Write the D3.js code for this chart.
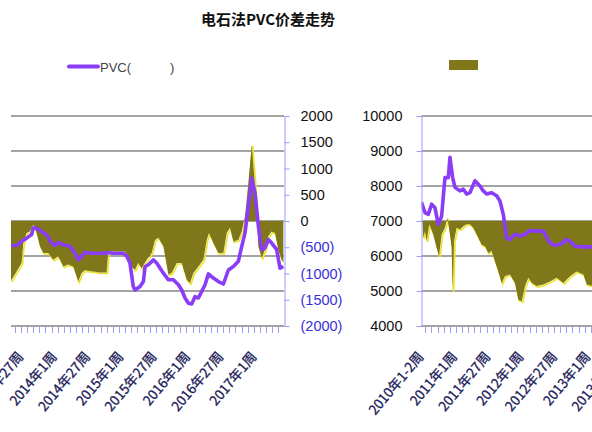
<!DOCTYPE html>
<html>
<head>
<meta charset="utf-8">
<script src="https://cdn.jsdelivr.net/npm/d3@7/dist/d3.min.js"></script>
<style>
body{margin:0;background:#fff;}
svg{display:block;}
</style>
</head>
<body>
<div id="chart"></div>
<script>
(function()
{
    var width = 592;
    var height = 432;

    var title = "电石法PVC价差走势";
    var legendLine = ["PVC(", ")"];

    // y axes
    var primaryTicks = [4000, 5000, 6000, 7000, 8000, 9000, 10000];
    var secondaryTicks = [-2000, -1500, -1000, -500, 0, 500, 1000, 1500, 2000];

    // category labels (week index from 2010年1-2周)
    var rightLabels = ["2010年1-2周", "2011年1周", "2011年27周", "2012年1周", "2012年27周", "2013年1周", "2013年27周"];
    var rightLabelWeeks = [0, 26, 52, 78, 104, 130, 156];
    var leftLabels = ["2013年27周", "2014年1周", "2014年27周", "2015年1周", "2015年27周", "2016年1周", "2016年27周", "2017年1周"];
    var leftLabelWeeks = [156, 182, 208, 234, 260, 286, 312, 338];

    // PVC price (primary axis)
    var pvcWeeks = [0, 2.7, 5.3, 7.9, 10.5, 13.1, 15.7, 18.3, 20.9, 22.2, 24.3, 26.1, 30, 32.6, 35.2, 37.8, 41.7, 45.6, 48.2, 50.8,
        54.7, 58.6, 61.2, 63.8, 66.4, 69, 72.9, 76.9, 80.8, 84.7, 89.9, 95.1, 99, 102.9, 108.1, 113.3, 117.2, 119.8, 126.3, 134,
        148.5, 152.4, 156.3, 160.2, 164.1, 165.4, 168, 171.9, 175.8, 179.7, 182.3, 184.9, 188.8, 194, 197.9, 200.5, 203.1, 205.7, 210.9, 217.4,
        221.3, 222.6, 227.8, 235.6, 238.2, 240.8, 243.4, 244.7, 248.7, 251.3, 252.6, 255.2, 259.1, 261.7, 264.3, 266.9, 270.8, 274.7, 278.6, 281.2,
        283.8, 286.4, 289, 291.6, 294.2, 296.8, 299.4, 302, 305.9, 309.8, 313.7, 317.6, 321.5, 325.4, 328, 330.6, 333.2, 335.8, 338.4, 341,
        343.6, 346.2, 348.8, 351.4, 355.3, 357.9, 360.5];
    var pvcPrice = [7530, 7240, 7190, 7480, 7380, 6900, 7140, 8240, 8240, 8820, 8240, 7960, 7860, 7910, 7770, 7810, 8150, 8000, 7860, 7770,
        7810, 7720, 7570, 7190, 6520, 6470, 6620, 6570, 6620, 6730, 6710, 6710, 6430, 6310, 6330, 6470, 6380, 6280, 6260, 6260,
        6300, 6300, 6420, 6510, 6610, 6800, 6800, 6700, 6610, 6370, 6300, 6390, 6320, 6280, 6080, 5890, 5990, 6100, 6080, 6080,
        6070, 6100, 6080, 6080, 6000, 5800, 5130, 5030, 5130, 5270, 5700, 5750, 5890, 5800, 5650, 5510, 5320, 5320, 5180, 5030,
        4800, 4650, 4630, 4840, 4800, 4990, 5180, 5490, 5370, 5270, 5200, 5600, 5700, 5850, 6270, 6660, 7420, 8230, 7800, 6850,
        6180, 6230, 6470, 6370, 6180, 5650, 5700];

    // 价差 (secondary axis)
    var spreadWeeks = [0.7, 1.4, 2.7, 4, 6.1, 9.2, 11.8, 13.7, 15.7, 18.3, 20.2, 22.2, 23.5, 24.3, 25.4, 27.4, 30, 32.6, 35.2, 37.8,
        40.4, 44.3, 46.9, 49.5, 52.1, 54.7, 57.3, 59.9, 62.5, 65.1, 69, 72.9, 75.5, 78.2, 80.8, 83.4, 86, 89.9, 95.1, 100.3,
        105.5, 110.7, 115.9, 121.1, 126.3, 128.9, 134,
        148.5, 152.4, 156.3, 157.6, 160.2, 162.8, 165.4, 168, 170.6, 173.2, 177.1, 181, 184.9, 188.8, 192.7, 196.6, 200.5, 203.1, 205.7, 212.2,
        217.4, 222.6, 223.9, 230.4, 237, 239.5, 242.1, 244.7, 247.3, 249.9, 253.9, 257.8, 260.4, 263, 266.9, 270.8, 273.4, 277.3, 281.2, 285.1,
        287.7, 290.3, 294.2, 298.1, 300.7, 302.5, 305.9, 309.8, 313.7, 316.3, 318.9, 321.5, 325.4, 328, 330.6, 333.2, 335.8, 338.4, 341, 343.6,
        346.2, 348.8, 351.4, 354, 356.6, 359.2, 360.5];
    var spreadValue = [0, -320, -190, -380, -60, -255, -510, -670, -255, -130, 60, -255, -510, -1340, -380, -130, -160, -100, -60, -60,
        -130, -320, -450, -480, -610, -570, -770, -960, -1180, -1050, -1020, -1180, -1500, -1530, -1240, -1080, -1180, -1240, -1210, -1150,
        -1080, -1180, -1050, -960, -1020, -1210, -1240,
        -1120, -960, -800, -420, -230, -200, -70, -230, -480, -610, -610, -740, -670, -865, -830, -865, -1150, -990, -940, -960,
        -980, -980, -580, -580, -580, -670, -865, -930, -800, -900, -740, -610, -360, -320, -480, -1020, -990, -800, -800, -1120,
        -1180, -990, -865, -740, -360, -230, -420, -610, -610, -230, -130, -390, -360, -200, 90, 725, 1450, 660, -480, -700,
        -550, -290, -200, -230, -550, -740, -770];

    var pvc = pvcWeeks.map(function(w, i){ return {w: w, v: pvcPrice[i]}; });
    var spread = spreadWeeks.map(function(w, i){ return {w: w, v: spreadValue[i]}; });

    var top = 116, bottom = 326;
    var olive = "#7f7719";
    var purple = "#8a3cf6";
    var axisColor = "#9a9aff";

    var svg = d3.select("#chart").append("svg")
        .attr("width", width)
        .attr("height", height)
        .style("font-family", "'Liberation Sans', Arial, sans-serif");

    var yP = d3.scaleLinear().domain([4000, 10000]).range([bottom, top]);
    var yS = d3.scaleLinear().domain([-2000, 2000]).range([bottom, top]);

    // the two panels are two windows on the same weekly axis
    var panels = [
        {id: "pl", x: d3.scaleLinear().domain([148, 361]).range([11, 284]), labels: leftLabels, labelWeeks: leftLabelWeeks},
        {id: "pr", x: d3.scaleLinear().domain([0, 133]).range([421.5, 592]), labels: rightLabels, labelWeeks: rightLabelWeeks}
    ];

    var defs = svg.append("defs");

    panels.forEach(function(p)
    {
        var x = p.x;
        var x0 = x.range()[0], x1 = x.range()[1];

        defs.append("clipPath").attr("id", "clip-" + p.id)
            .append("rect").attr("x", x0).attr("y", 0).attr("width", x1 - x0).attr("height", height);

        var g = svg.append("g");

        g.selectAll(".grid").data(primaryTicks)
            .enter().append("line")
            .attr("x1", x0).attr("x2", x1)
            .attr("y1", function(d){ return yP(d); })
            .attr("y2", function(d){ return yP(d); })
            .attr("stroke", "#a3a3a3")
            .attr("stroke-width", 2);

        var plot = g.append("g").attr("clip-path", "url(#clip-" + p.id + ")");

        var edge = d3.line().x(function(d){ return x(d.w); }).y(function(d){ return yS(d.v); });
        plot.append("path").datum(spread)
            .attr("d", edge)
            .attr("transform", "translate(1,1)")
            .attr("fill", "none")
            .attr("stroke", "#ece42a")
            .attr("stroke-width", 1.6);

        var area = d3.area()
            .x(function(d){ return x(d.w); })
            .y0(yS(0))
            .y1(function(d){ return yS(d.v); });
        plot.append("path").datum(spread)
            .attr("d", area)
            .attr("fill", olive);

        var line = d3.line().x(function(d){ return x(d.w); }).y(function(d){ return yP(d.v); });
        plot.append("path").datum(pvc)
            .attr("d", line)
            .attr("fill", "none")
            .attr("stroke", purple)
            .attr("stroke-width", 3.6)
            .attr("stroke-linejoin", "round");

        // category tick marks
        var tickWeeks = d3.range(x.domain()[0] + 3, x.domain()[1], 4.78);
        g.selectAll(".xtick").data(tickWeeks)
            .enter().append("line")
            .attr("x1", function(d){ return Math.round(x(d)) + 0.5; })
            .attr("x2", function(d){ return Math.round(x(d)) + 0.5; })
            .attr("y1", bottom + 1).attr("y2", bottom + 7)
            .attr("stroke", axisColor)
            .attr("stroke-width", 1);

        g.selectAll(".xlab").data(p.labels)
            .enter().append("text")
            .attr("transform", function(d, i){ return "translate(" + (x(p.labelWeeks[i]) + 3) + "," + 357 + ") rotate(-50)"; })
            .attr("text-anchor", "end")
            .attr("font-family", "'Noto Sans CJK SC', sans-serif")
            .attr("font-size", 13.5)
            .attr("fill", "#202058")
            .attr("stroke", "#202058")
            .attr("stroke-width", 0.3)
            .text(function(d){ return d; });
    });

    // secondary axis (left panel, right side)
    var axS = d3.axisRight(yS)
        .tickValues(secondaryTicks)
        .tickSize(5)
        .tickSizeOuter(0)
        .tickPadding(11)
        .tickFormat(function(d){ return d < 0 ? "(" + (-d) + ")" : d; });
    var gS = svg.append("g").attr("transform", "translate(284.5,0)").call(axS);
    gS.select(".domain").attr("stroke", axisColor);
    gS.selectAll(".tick line").attr("stroke", axisColor);
    gS.selectAll(".tick text")
        .attr("font-size", 14.5)
        .attr("font-family", "'Liberation Sans', Arial, sans-serif")
        .attr("fill", function(d){ return d < 0 ? "#3b2fd8" : "#111"; });

    // primary axis (right panel, left side)
    var axP = d3.axisLeft(yP)
        .tickValues(primaryTicks)
        .tickSize(5)
        .tickSizeOuter(0)
        .tickPadding(14)
        .tickFormat(d3.format("d"));
    var gP = svg.append("g").attr("transform", "translate(421.5,0)").call(axP);
    gP.select(".domain").attr("stroke", axisColor);
    gP.selectAll(".tick line").attr("stroke", axisColor);
    gP.selectAll(".tick text")
        .attr("font-size", 14.5)
        .attr("font-family", "'Liberation Sans', Arial, sans-serif")
        .attr("fill", "#111");

    // title
    svg.append("text")
        .attr("x", 268)
        .attr("y", 25)
        .attr("text-anchor", "middle")
        .attr("font-family", "'Noto Sans CJK SC', sans-serif")
        .attr("font-weight", "bold")
        .attr("font-size", 15)
        .attr("fill", "#111")
        .text(title);

    // legend
    svg.append("line")
        .attr("x1", 69).attr("x2", 98)
        .attr("y1", 66.5).attr("y2", 66.5)
        .attr("stroke", purple)
        .attr("stroke-width", 4)
        .attr("stroke-linecap", "round");
    svg.append("text")
        .attr("x", 100).attr("y", 72)
        .attr("font-size", 13)
        .attr("fill", "#444")
        .text(legendLine[0]);
    svg.append("text")
        .attr("x", 170).attr("y", 72)
        .attr("font-size", 13)
        .attr("fill", "#444")
        .text(legendLine[1]);
    svg.append("rect")
        .attr("x", 449).attr("y", 60)
        .attr("width", 29).attr("height", 10)
        .attr("fill", olive);

})();
</script>
</body>
</html>
